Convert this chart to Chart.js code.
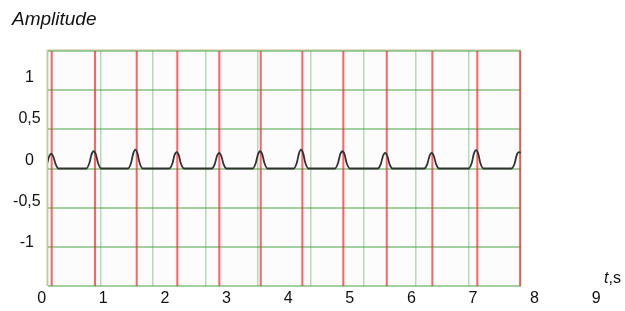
<!DOCTYPE html>
<html>
<head>
<meta charset="utf-8">
<script src="https://cdn.jsdelivr.net/npm/chart.js@4.4.1/dist/chart.umd.min.js"></script>
<style>
  html, body { margin: 0; padding: 0; background: #fff; }
  canvas { display: block; }
</style>
</head>
<body>
<canvas id="chart" width="625" height="311"></canvas>
<script>
'use strict';

// ══════════════════════════════════════
// DATA
// ══════════════════════════════════════
var xTickValues = [0, 1, 2, 3, 4, 5, 6, 7, 8, 9];
var xTickLabels = ['0', '1', '2', '3', '4', '5', '6', '7', '8', '9'];
var yTickValues = [1, 0.5, 0, -0.5, -1];
var yTickLabels = ['1', '0,5', '0', '-0,5', '-1'];

// red markers (s)
var beatMarks = [0.162, 0.865, 1.542, 2.201, 2.883, 3.555, 4.231, 4.896, 5.601, 6.341, 7.071, 7.765];

// signal, time (s) and amplitude
var sigT = [
  0.034, 0.084, 0.119, 0.154, 0.189, 0.224, 0.274,
  0.724, 0.774, 0.809, 0.844, 0.879, 0.914, 0.964,
  1.400, 1.450, 1.485, 1.520, 1.555, 1.590, 1.640,
  2.070, 2.120, 2.155, 2.190, 2.225, 2.260, 2.310,
  2.760, 2.810, 2.845, 2.880, 2.915, 2.950, 3.000,
  3.425, 3.475, 3.510, 3.545, 3.580, 3.615, 3.665,
  4.090, 4.140, 4.175, 4.210, 4.245, 4.280, 4.330,
  4.760, 4.810, 4.845, 4.880, 4.915, 4.950, 5.000,
  5.455, 5.505, 5.540, 5.575, 5.610, 5.645, 5.695,
  6.210, 6.260, 6.295, 6.330, 6.365, 6.400, 6.450,
  6.930, 6.980, 7.015, 7.050, 7.085, 7.120, 7.170,
  7.625, 7.675, 7.710, 7.745, 7.780, 7.815
];
var sigV = [
  0, 0.06, 0.15, 0.19, 0.15, 0.06, 0,
  0, 0.07, 0.18, 0.22, 0.18, 0.07, 0,
  0, 0.07, 0.19, 0.24, 0.19, 0.07, 0,
  0, 0.06, 0.17, 0.21, 0.17, 0.06, 0,
  0, 0.06, 0.16, 0.20, 0.16, 0.06, 0,
  0, 0.07, 0.18, 0.22, 0.18, 0.07, 0,
  0, 0.07, 0.19, 0.24, 0.19, 0.07, 0,
  0, 0.07, 0.18, 0.22, 0.18, 0.07, 0,
  0, 0.06, 0.16, 0.20, 0.16, 0.06, 0,
  0, 0.06, 0.16, 0.20, 0.16, 0.06, 0,
  0, 0.07, 0.19, 0.235, 0.19, 0.07, 0,
  0, 0.06, 0.17, 0.21, 0.20, 0.17
];

var T_MIN = 0.102, T_MAX = 7.78;
var A_MIN = -1.5, A_MAX = 1.5;

var FONT = '"Liberation Sans", Arial, sans-serif';

// ── Datasets ──────────────────────────────────────────────────────────────
var datasets = [{
  label: 'Amplitude',
  data: sigT.map(function(t, i){ return { x: t, y: sigV[i] }; }),
  borderColor: '#333',
  borderWidth: 1.8,
  pointRadius: 0,
  cubicInterpolationMode: 'monotone',
  fill: false
}];
beatMarks.forEach(function(t){
  datasets.push({
    label: 'mark',
    data: [{ x: t, y: A_MIN }, { x: t, y: A_MAX }],
    borderColor: 'rgba(255,40,40,0.72)',
    borderWidth: 2,
    pointRadius: 0,
    fill: false
  });
});

// ── Plot frame + texts ───────────────────────────────────────────────────
var framePlugin = {
  id: 'frame',
  beforeDraw: function(chart) {
    var a = chart.chartArea, ctx = chart.ctx;
    ctx.save();
    ctx.fillStyle = '#fcfcfc';
    ctx.fillRect(a.left, a.top, a.right - a.left, a.bottom - a.top);
    ctx.fillStyle = '#e8dfca';
    ctx.fillRect(a.left - 2, a.top - 2, a.right - a.left + 2, 2);
    ctx.fillRect(a.left - 2, a.top - 2, 1.5, a.bottom - a.top + 2);
    ctx.restore();
  },
  afterDraw: function(chart) {
    var ctx = chart.ctx;
    var xs = chart.scales.x, ys = chart.scales.yText;
    ctx.save();
    ctx.fillStyle = '#111';
    ctx.font = '16px ' + FONT;
    ctx.textBaseline = 'middle';
    ctx.textAlign = 'center';
    xTickValues.forEach(function(v, i){
      ctx.fillText(xTickLabels[i], xs.getPixelForValue(v), 299);
    });
    // y labels: number centred, minus sign hangs to the left
    yTickValues.forEach(function(v, i){
      var lbl = yTickLabels[i], y = ys.getPixelForValue(v);
      var neg = lbl.charAt(0) === '-';
      var body = neg ? lbl.slice(1) : lbl;
      ctx.textAlign = 'center';
      ctx.fillText(body, 29.5, y);
      if (neg) {
        ctx.textAlign = 'right';
        ctx.fillText('-', 29.5 - ctx.measureText(body).width / 2, y);
      }
    });
    ctx.textBaseline = 'alphabetic';
    ctx.textAlign = 'left';
    ctx.font = 'italic 19px ' + FONT;
    ctx.fillText('Amplitude', 12, 25);
    ctx.font = 'italic 16px ' + FONT;
    ctx.fillText('t', 604, 283);
    var w = ctx.measureText('t').width;
    ctx.font = '16px ' + FONT;
    ctx.fillText(',s', 604 + w, 283);
    ctx.restore();
  }
};

new Chart(document.getElementById('chart'), {
  type: 'line',
  data: { datasets: datasets },
  options: {
    responsive: false,
    animation: false,
    devicePixelRatio: 1,
    layout: { padding: { left: 48, right: 104, top: 51, bottom: 25 } },
    plugins: { legend: { display: false }, tooltip: { enabled: false } },
    scales: {
      x: {
        type: 'linear',
        min: T_MIN,
        max: T_MAX,
        afterBuildTicks: function(scale) {
          var ticks = [];
          for (var i = 0; i <= 9; i++) ticks.push({ value: T_MIN + (T_MAX - T_MIN) * i / 9 });
          scale.ticks = ticks;
        },
        ticks: { display: false },
        grid: { color: 'rgba(70,165,70,0.38)', lineWidth: 1.5, drawTicks: false },
        border: { display: false }
      },
      y: {
        min: A_MIN,
        max: A_MAX,
        ticks: { display: false, stepSize: 0.5 },
        grid: { color: 'rgba(70,165,70,0.5)', lineWidth: 2, drawTicks: false },
        border: { display: false }
      },
      yText: {
        type: 'linear',
        display: false,
        min: -1.528,
        max: 1.325
      }
    }
  },
  plugins: [framePlugin]
});
</script>
</body>
</html>
